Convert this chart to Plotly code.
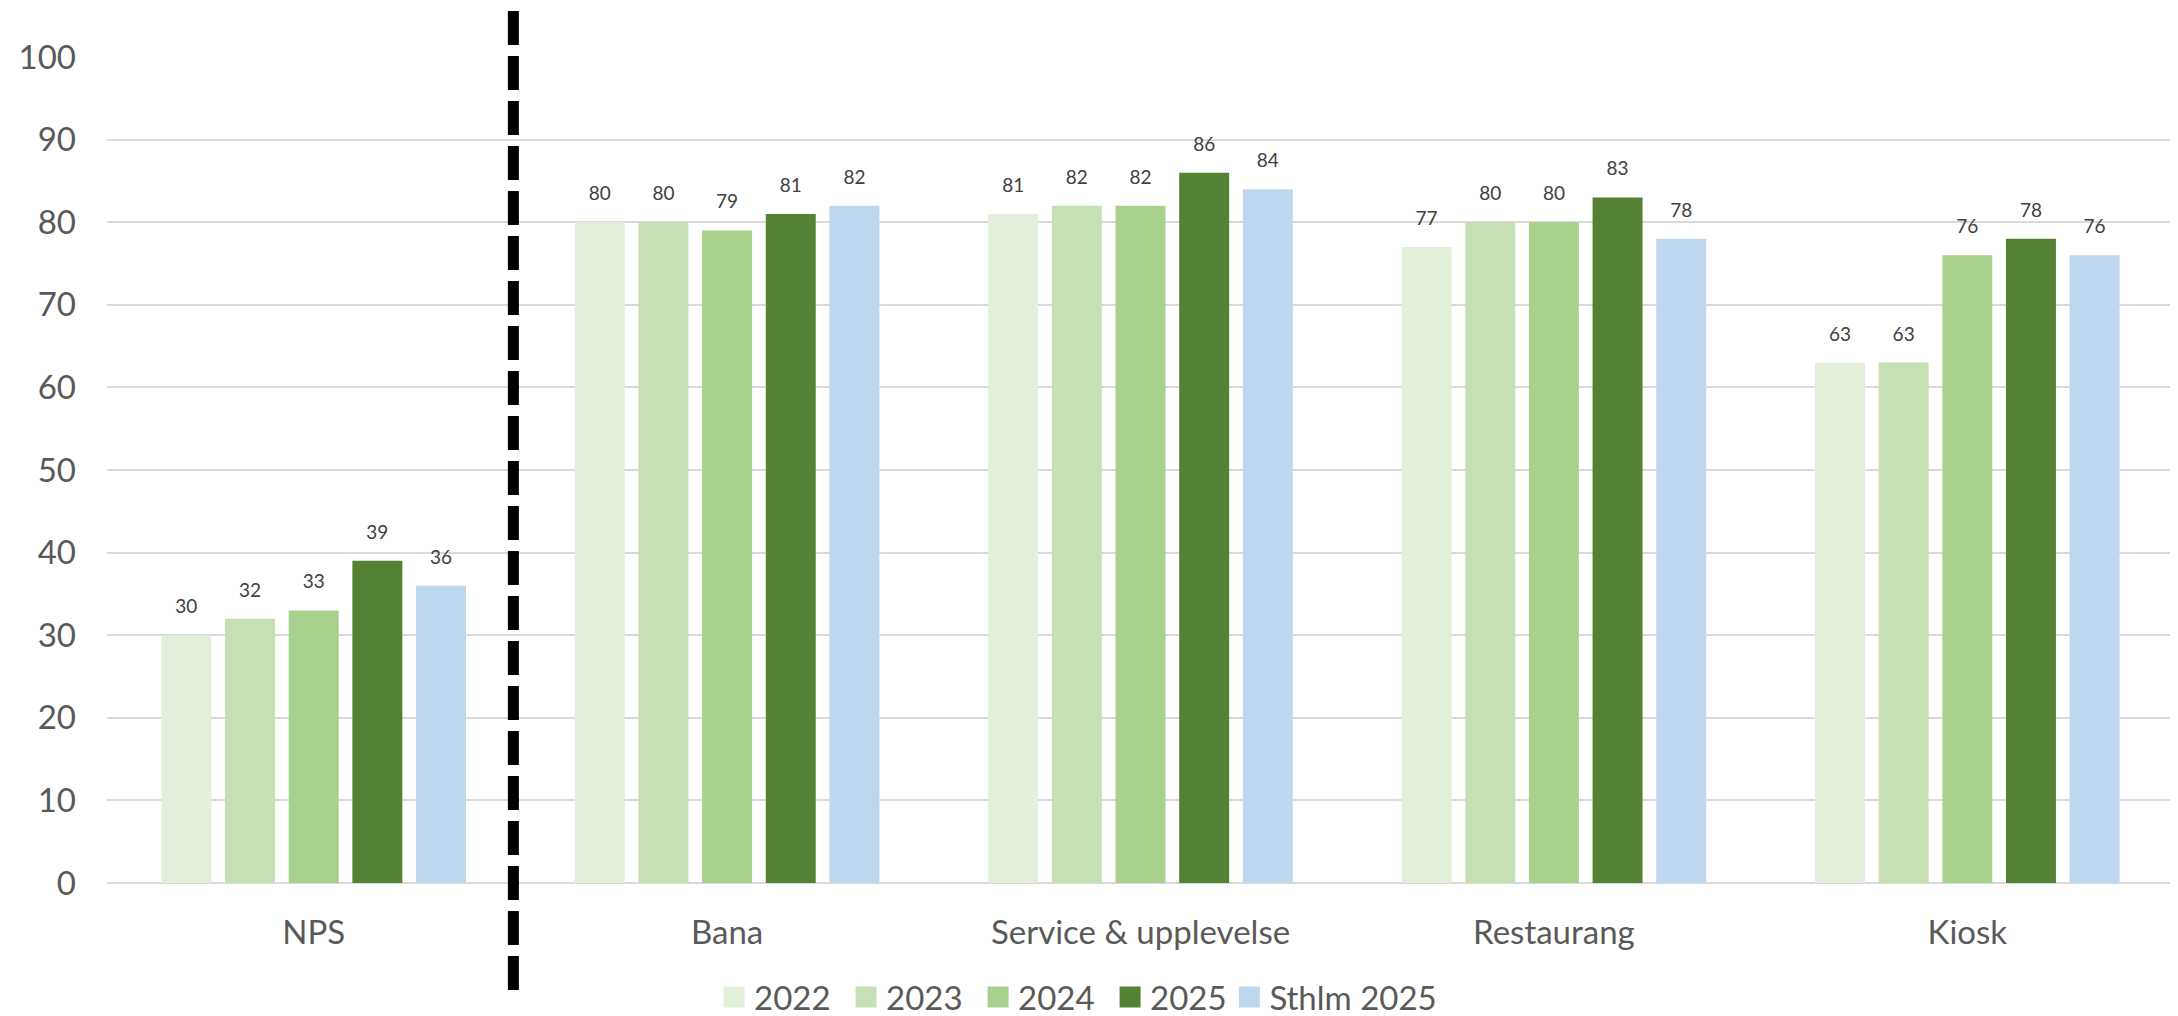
import plotly.graph_objects as go

categories = ["NPS", "Bana", "Service & upplevelse", "Restaurang", "Kiosk"]
series_names = ["2022", "2023", "2024", "2025", "Sthlm 2025"]
v2022 = [30, 80, 81, 77, 63]
v2023 = [32, 80, 82, 80, 63]
v2024 = [33, 79, 82, 80, 76]
v2025 = [39, 81, 86, 83, 78]
vsthlm = [36, 82, 84, 78, 76]
series_values = [v2022, v2023, v2024, v2025, vsthlm]
colors = ["#E2EFDA", "#C6E0B4", "#A9D18E", "#548235", "#BDD7EE"]
y_ticks = list(range(0, 101, 10))

FONT = "Lato"
BARGAP = 0.23

fig = go.Figure()
for name, vals, col in zip(series_names, series_values, colors):
    fig.add_trace(go.Bar(
        x=categories, y=vals, name=name, marker=dict(color=col, line=dict(width=0)),
        showlegend=False, hoverinfo="skip",
    ))
# data labels (grouped scatter aligned with bar slots)
for name, vals in zip(series_names, series_values):
    fig.add_trace(go.Scatter(
        x=categories, y=vals, mode="markers+text", text=[str(v) for v in vals],
        textposition="top center", textfont=dict(family=FONT, size=19, color="#404040"),
        marker=dict(size=26, opacity=0), showlegend=False, hoverinfo="skip",
    ))
# legend entries on a hidden overlay axis (last entry in a second legend so it is not clipped)
for i, (name, col) in enumerate(zip(series_names, colors)):
    fig.add_trace(go.Scatter(
        x=[None], y=[None], xaxis="x2", yaxis="y2", mode="markers", name=name,
        marker=dict(symbol="square", size=16, color=col, line=dict(color=col, width=5)),
        legend="legend2" if i == len(series_names) - 1 else "legend",
    ))

n_cat = len(categories)
divider_cat = 0.483  # between NPS and Bana
divider_paper = (divider_cat + 0.5) / n_cat
fig.add_shape(type="line", xref="paper", yref="paper",
              x0=divider_paper, x1=divider_paper, y0=1.0557, y1=-0.14,
              line=dict(color="black", width=11, dash="34px,11px"))

legend_font = dict(family=FONT, size=33, color="#595959")
fig.update_layout(
    width=2170, height=1008,
    margin=dict(l=99, r=4, t=49, b=133, autoexpand=False),
    paper_bgcolor="white", plot_bgcolor="white",
    barmode="group", bargap=BARGAP, bargroupgap=0.215,
    scattermode="group", scattergap=BARGAP,
    font=dict(family=FONT, size=33, color="#595959"),
    xaxis=dict(type="category", showgrid=False, zeroline=False, showline=False,
               tickfont=dict(family=FONT, size=33, color="#595959"), ticks="",
               ticklabelstandoff=27, automargin=False),
    yaxis=dict(range=[0, 100], tickvals=y_ticks, showgrid=True, gridcolor="#D9D9D9",
               gridwidth=2, zeroline=True, zerolinecolor="#D9D9D9", zerolinewidth=2,
               tickfont=dict(family=FONT, size=33, color="#595959"), ticks="",
               ticklabelstandoff=30, automargin=False),
    xaxis2=dict(overlaying="x", visible=False),
    yaxis2=dict(overlaying="y", visible=False),
    legend=dict(orientation="h", x=0.2937, xanchor="left", y=-0.138, yanchor="middle",
                font=legend_font, entrywidth=87, bgcolor="rgba(0,0,0,0)"),
    legend2=dict(orientation="h", x=0.543, xanchor="left", y=-0.138, yanchor="middle",
                 font=legend_font, bgcolor="rgba(0,0,0,0)"),
)

fig.write_html("out.html")
